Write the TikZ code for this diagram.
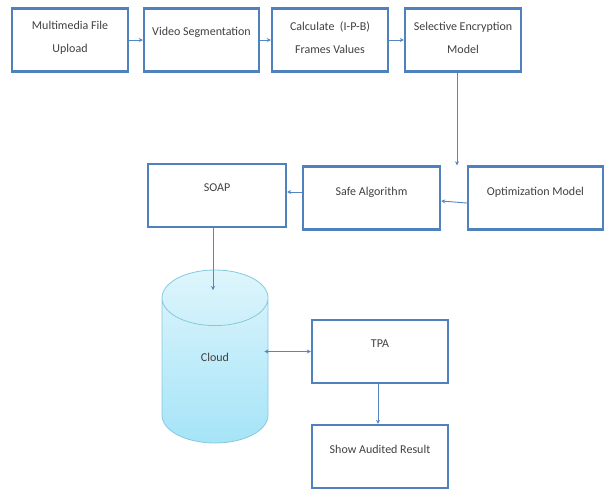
\documentclass[tikz,border=0pt]{standalone}
\usepackage{fontspec}
\setmainfont{Carlito}
\usetikzlibrary{shapes.geometric,arrows.meta}
\definecolor{boxblue}{RGB}{79,129,189}
\definecolor{linkblue}{RGB}{84,134,196}
\definecolor{cylline}{RGB}{134,201,222}
\definecolor{cyltop}{RGB}{222,245,252}
\definecolor{cylbot}{RGB}{165,228,247}
\definecolor{txtgray}{RGB}{64,64,64}
\begin{document}
\begin{tikzpicture} [
            x=1pt, y=-1pt,
            box/.style={draw=boxblue,line width=2.4pt,minimum height=63pt,inner sep=0pt},
            link/.style = {draw=linkblue,line width=0.9pt,-{Stealth[length=4pt,width=4pt]}},
            twolink/.style = {link,{Stealth[length=4pt,width=4pt]}-{Stealth[length=4pt,width=4pt]}},
            every label/.style={anchor=center,align=center,text=txtgray,
                font=\fontsize{12}{23}\selectfont},
        ]
        \useasboundingbox (0,0) rectangle (610,491);
        \foreach \pos/\name/\boxw/\dy/\txt in {
                {(70,40)/upload/116/30.5/{Multimedia File\\Upload}},
                {(201.5,40)/segment/115/25/{Video Segmentation}},
                {(330,40)/frames/116/30.5/{Calculate~~(I-P-B)\\Frames Values}},
                {(463,40)/encrypt/116/30.5/{Selective Encryption\\Model}},
                {(217,195.5)/soap/138/25/{SOAP}},
                {(371.5,198)/safe/137/27/{Safe Algorithm}},
                {(535.5,198)/optim/135/27/{Optimization Model}},
                {(380,351.5)/tpa/136/25/{TPA}},
                {(380,456.5)/result/136/26/{Show Audited Result}}}
            \node[box,minimum width=\boxw pt,
                label={[yshift=-\dy pt]north:\txt}] (\name) at \pos {};
        % cloud storage
        \node[cylinder,shape border rotate=90,aspect=1.6,anchor=shape center,
            font=\fontsize{12}{14}\selectfont,
            minimum width=106pt,minimum height=173pt,
            draw=cylline,line width=0.8pt,top color=cyltop,bottom color=cylbot,
            label={[yshift=-88pt]north:Cloud}] (cloud) at (215,356.5) {\phantom{Cloud}};
        \coordinate (cloudin) at (213,290);
        \foreach \source/ \dest in {
                upload/segment,segment/frames,frames/encrypt}
            \path[link] (\source) -- (\dest);
        \path[link] ([xshift=-6pt]encrypt.south) -- ([xshift=-6pt]encrypt.south |- optim.north);
        \path[link] ([yshift=-5pt]optim.west) -- ([yshift=-3pt]safe.east);
        \path[link] ([yshift=6pt]safe.west) -- ([yshift=6pt]safe.west -| soap.east);
        \path[link] (soap.south -| cloudin) -- (cloudin);
        \path[twolink] ([xshift=-4pt]cloud.east |- tpa) -- (tpa.west);
        \path[link] ([xshift=-2pt]tpa.south) -- ([xshift=-2pt]result.north);
    \end{tikzpicture}
\end{document}
